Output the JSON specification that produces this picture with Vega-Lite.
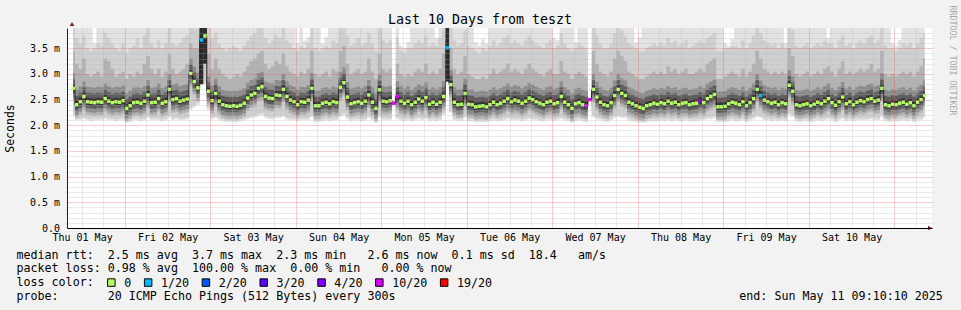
{
"$schema":"https://vega.github.io/schema/vega-lite/v6.json",
"width":865,"height":200,
"autosize":{"type":"none"},
"padding":{"left":67,"top":28,"right":29,"bottom":82},
"background":"#f2f2f2",
"title":{"text":"Last 10 Days from teszt","frame":"group","anchor":"middle","dx":-19.5,"dy":36,"offset":4,"baseline":"alphabetic","font":"DejaVu Sans Mono","fontSize":13.3,"fontWeight":"normal","color":"#000000"},
"datasets":{
"d":[
{"t":9.5,"m":2.72,"l":2.18,"u":3.45,"v":3.89},{"t":10.5,"m":2.40,"l":2.1,"u":3.2,"v":3.7},{"t":11.5,"m":2.46,"l":2.1,"u":3.1,"v":3.6},{"t":12.5,"m":2.56,"l":2.12,"u":3.3,"v":3.75},{"t":13.5,"m":2.46,"l":2.1,"u":3.0,"v":3.5},{"t":14.5,"m":2.45,"l":2.08,"u":2.95,"v":3.45},{"t":15.5,"m":2.44,"l":2.1,"u":3.0,"v":3.5},{"t":16.5,"m":2.46,"l":2.1,"u":3.05,"v":3.6},{"t":17.5,"m":2.45,"l":2.1,"u":2.95,"v":3.55},{"t":18.5,"m":2.52,"l":2.12,"u":3.3,"v":3.8},
{"t":19.5,"m":2.47,"l":2.1,"u":3.25,"v":3.7},{"t":20.5,"m":2.44,"l":2.1,"u":3.1,"v":3.6},{"t":21.5,"m":2.46,"l":2.08,"u":2.95,"v":3.5},{"t":22.5,"m":2.45,"l":2.1,"u":3.0,"v":3.45},{"t":23.5,"m":2.48,"l":2.1,"u":3.05,"v":3.6},{"t":24.5,"m":2.33,"l":2.05,"u":2.9,"v":3.4},{"t":25.5,"m":2.38,"l":2.06,"u":3.0,"v":3.5},{"t":26.5,"m":2.44,"l":2.1,"u":2.95,"v":3.55},{"t":27.5,"m":2.45,"l":2.1,"u":3.05,"v":3.7},{"t":28.5,"m":2.43,"l":2.08,"u":3.0,"v":3.5},
{"t":29.5,"m":2.47,"l":2.1,"u":3.2,"v":3.75},{"t":30.5,"m":2.59,"l":2.14,"u":3.35,"v":3.89},{"t":31.5,"m":2.44,"l":2.1,"u":3.1,"v":3.6},{"t":32.5,"m":2.45,"l":2.1,"u":3.0,"v":3.5},{"t":33.5,"m":2.52,"l":2.1,"u":3.1,"v":3.65},{"t":34.5,"m":2.43,"l":2.08,"u":2.95,"v":3.5},{"t":35.5,"m":2.46,"l":2.1,"u":3.05,"v":3.6},{"t":36.5,"m":2.70,"l":2.15,"u":3.4,"v":3.89},{"t":37.5,"m":2.50,"l":2.1,"u":3.1,"v":3.6},{"t":38.5,"m":2.52,"l":2.12,"u":3.0,"v":3.55},
{"t":39.5,"m":2.47,"l":2.1,"u":3.05,"v":3.6},{"t":40.5,"m":2.49,"l":2.1,"u":3.1,"v":3.7},{"t":41.5,"m":2.51,"l":2.12,"u":3.2,"v":3.75},{"t":42.5,"m":3.01,"l":2.3,"u":3.6,"v":3.89},{"t":43.5,"m":2.85,"l":2.35,"u":3.5,"v":3.89},{"t":44.5,"m":2.73,"l":2.4,"u":3.5,"v":3.89},{"t":45.5,"m":3.66,"l":2.8,"u":3.89,"v":3.89,"c":"1/20"},{"t":46.5,"m":3.74,"l":2.8,"u":3.89,"v":3.89},{"t":47.5,"m":2.66,"l":2.3,"u":3.4,"v":3.89},{"t":48.5,"m":2.48,"l":2.12,"u":3.1,"v":3.7},
{"t":49.5,"m":2.62,"l":2.14,"u":3.3,"v":3.8},{"t":50.5,"m":2.47,"l":2.1,"u":3.1,"v":3.6},{"t":51.5,"m":2.40,"l":2.08,"u":3.0,"v":3.5},{"t":52.5,"m":2.38,"l":2.06,"u":2.95,"v":3.45},{"t":53.5,"m":2.37,"l":2.06,"u":2.9,"v":3.5},{"t":54.5,"m":2.38,"l":2.06,"u":2.95,"v":3.55},{"t":55.5,"m":2.37,"l":2.06,"u":3.0,"v":3.5},{"t":56.5,"m":2.39,"l":2.08,"u":2.95,"v":3.45},{"t":57.5,"m":2.43,"l":2.1,"u":3.05,"v":3.55},{"t":58.5,"m":2.53,"l":2.12,"u":3.15,"v":3.65},
{"t":59.5,"m":2.59,"l":2.14,"u":3.25,"v":3.75},{"t":60.5,"m":2.62,"l":2.15,"u":3.3,"v":3.8},{"t":61.5,"m":2.72,"l":2.18,"u":3.4,"v":3.89},{"t":62.5,"m":2.75,"l":2.2,"u":3.45,"v":3.89},{"t":63.5,"m":2.56,"l":2.14,"u":3.2,"v":3.7},{"t":64.5,"m":2.53,"l":2.12,"u":3.1,"v":3.6},{"t":65.5,"m":2.52,"l":2.12,"u":3.15,"v":3.65},{"t":66.5,"m":2.59,"l":2.14,"u":3.25,"v":3.75},{"t":67.5,"m":2.58,"l":2.14,"u":3.2,"v":3.7},{"t":68.5,"m":2.70,"l":2.16,"u":3.4,"v":3.89},
{"t":69.5,"m":2.56,"l":2.12,"u":3.15,"v":3.65},{"t":70.5,"m":2.49,"l":2.1,"u":3.05,"v":3.6},{"t":71.5,"m":2.46,"l":2.1,"u":3.0,"v":3.5},{"t":72.5,"m":2.40,"l":2.08,"u":2.95,"v":3.45},{"t":73.5,"m":2.46,"l":2.1,"u":3.05,"v":3.55},{"t":74.5,"m":2.45,"l":2.1,"u":3.0,"v":3.5},{"t":75.5,"m":2.49,"l":2.1,"u":3.1,"v":3.6},{"t":76.5,"m":2.72,"l":2.16,"u":3.45,"v":3.89},{"t":77.5,"m":2.38,"l":2.06,"u":3.0,"v":3.5},{"t":78.5,"m":2.38,"l":2.06,"u":2.95,"v":3.45},
{"t":79.5,"m":2.43,"l":2.08,"u":3.0,"v":3.5},{"t":80.5,"m":2.45,"l":2.1,"u":3.05,"v":3.55},{"t":81.5,"m":2.42,"l":2.08,"u":2.95,"v":3.5},{"t":82.5,"m":2.46,"l":2.1,"u":3.1,"v":3.65},{"t":83.5,"m":2.44,"l":2.1,"u":3.05,"v":3.6},{"t":84.5,"m":2.74,"l":2.16,"u":3.45,"v":3.89},{"t":85.5,"m":2.83,"l":2.2,"u":3.55,"v":3.89},{"t":86.5,"m":2.55,"l":2.12,"u":3.2,"v":3.75},{"t":87.5,"m":2.42,"l":2.08,"u":3.0,"v":3.55},{"t":88.5,"m":2.44,"l":2.1,"u":3.05,"v":3.6},
{"t":89.5,"m":2.46,"l":2.1,"u":3.1,"v":3.7},{"t":90.5,"m":2.43,"l":2.08,"u":3.0,"v":3.55},{"t":91.5,"m":2.47,"l":2.1,"u":3.05,"v":3.6},{"t":92.5,"m":2.59,"l":2.14,"u":3.3,"v":3.8},{"t":93.5,"m":2.45,"l":2.1,"u":3.05,"v":3.6},{"t":94.5,"m":2.33,"l":2.05,"u":2.9,"v":3.45},{"t":95.5,"m":2.69,"l":2.15,"u":3.4,"v":3.89},{"t":96.5,"m":2.47,"l":2.1,"u":3.1,"v":3.65},{"t":97.5,"m":2.46,"l":2.1,"u":3.05,"v":3.6},{"t":98.5,"m":2.48,"l":2.1,"u":3.1,"v":3.65},
{"t":99.5,"m":2.43,"l":2.1,"u":3.0,"v":3.5,"c":"10/20"},{"t":100.5,"m":2.56,"l":2.12,"u":3.2,"v":3.7,"c":"10/20"},{"t":101.5,"m":2.47,"l":2.1,"u":3.0,"v":3.45},{"t":102.5,"m":2.43,"l":2.08,"u":2.95,"v":3.4},{"t":103.5,"m":2.47,"l":2.1,"u":3.0,"v":3.5},{"t":104.5,"m":2.40,"l":2.08,"u":2.95,"v":3.5},{"t":105.5,"m":2.45,"l":2.1,"u":3.05,"v":3.6},{"t":106.5,"m":2.51,"l":2.12,"u":3.1,"v":3.65},{"t":107.5,"m":2.47,"l":2.1,"u":3.05,"v":3.6},{"t":108.5,"m":2.54,"l":2.12,"u":3.2,"v":3.75},
{"t":109.5,"m":2.41,"l":2.08,"u":3.0,"v":3.55},{"t":110.5,"m":2.45,"l":2.1,"u":3.05,"v":3.6},{"t":111.5,"m":2.41,"l":2.08,"u":3.0,"v":3.55},{"t":112.5,"m":2.45,"l":2.1,"u":3.1,"v":3.7},{"t":113.5,"m":2.56,"l":2.2,"u":3.4,"v":3.89},{"t":114.5,"m":3.51,"l":2.85,"u":3.89,"v":3.89,"c":"1/20"},{"t":115.5,"m":2.79,"l":2.25,"u":3.5,"v":3.89},{"t":116.5,"m":2.45,"l":2.1,"u":3.1,"v":3.65},{"t":117.5,"m":2.40,"l":2.08,"u":3.0,"v":3.55},{"t":118.5,"m":2.41,"l":2.08,"u":3.05,"v":3.6},
{"t":119.5,"m":2.62,"l":2.14,"u":3.35,"v":3.85},{"t":120.5,"m":2.41,"l":2.08,"u":3.0,"v":3.55},{"t":121.5,"m":2.40,"l":2.08,"u":2.95,"v":3.5},{"t":122.5,"m":2.36,"l":2.06,"u":2.9,"v":3.45},{"t":123.5,"m":2.37,"l":2.06,"u":2.9,"v":3.4},{"t":124.5,"m":2.38,"l":2.06,"u":2.95,"v":3.5},{"t":125.5,"m":2.36,"l":2.06,"u":2.9,"v":3.45},{"t":126.5,"m":2.40,"l":2.08,"u":3.0,"v":3.55},{"t":127.5,"m":2.45,"l":2.1,"u":3.1,"v":3.65},{"t":128.5,"m":2.40,"l":2.08,"u":3.0,"v":3.55},
{"t":129.5,"m":2.43,"l":2.08,"u":3.05,"v":3.6},{"t":130.5,"m":2.47,"l":2.1,"u":3.1,"v":3.7},{"t":131.5,"m":2.52,"l":2.12,"u":3.2,"v":3.75},{"t":132.5,"m":2.46,"l":2.1,"u":3.05,"v":3.6},{"t":133.5,"m":2.49,"l":2.1,"u":3.1,"v":3.65},{"t":134.5,"m":2.47,"l":2.1,"u":3.05,"v":3.6},{"t":135.5,"m":2.43,"l":2.08,"u":3.0,"v":3.55},{"t":136.5,"m":2.47,"l":2.1,"u":3.1,"v":3.65},{"t":137.5,"m":2.53,"l":2.12,"u":3.2,"v":3.75},{"t":138.5,"m":2.50,"l":2.1,"u":3.1,"v":3.65},
{"t":139.5,"m":2.46,"l":2.1,"u":3.05,"v":3.6},{"t":140.5,"m":2.43,"l":2.08,"u":3.0,"v":3.55},{"t":141.5,"m":2.40,"l":2.08,"u":2.95,"v":3.5},{"t":142.5,"m":2.45,"l":2.1,"u":3.05,"v":3.6},{"t":143.5,"m":2.47,"l":2.1,"u":3.1,"v":3.65},{"t":144.5,"m":2.42,"l":2.08,"u":3.0,"v":3.5},{"t":145.5,"m":2.44,"l":2.1,"u":3.0,"v":3.55},{"t":146.5,"m":2.56,"l":2.12,"u":3.25,"v":3.8},{"t":147.5,"m":2.45,"l":2.1,"u":3.05,"v":3.6},{"t":148.5,"m":2.40,"l":2.08,"u":3.0,"v":3.5},
{"t":149.5,"m":2.33,"l":2.05,"u":2.9,"v":3.45},{"t":150.5,"m":2.42,"l":2.08,"u":3.0,"v":3.5},{"t":151.5,"m":2.44,"l":2.1,"u":3.05,"v":3.6},{"t":152.5,"m":2.40,"l":2.08,"u":3.0,"v":3.55},{"t":153.5,"m":2.38,"l":2.06,"u":2.95,"v":3.5,"c":"10/20"},{"t":154.5,"m":2.50,"l":2.1,"u":3.1,"v":3.6,"c":"10/20"},{"t":155.5,"m":2.70,"l":2.16,"u":3.45,"v":3.89},{"t":156.5,"m":2.55,"l":2.12,"u":3.2,"v":3.75},{"t":157.5,"m":2.45,"l":2.1,"u":3.05,"v":3.6},{"t":158.5,"m":2.40,"l":2.08,"u":3.0,"v":3.5},
{"t":159.5,"m":2.38,"l":2.06,"u":2.95,"v":3.5},{"t":160.5,"m":2.44,"l":2.1,"u":3.05,"v":3.6},{"t":161.5,"m":2.58,"l":2.14,"u":3.3,"v":3.8},{"t":162.5,"m":2.70,"l":2.16,"u":3.45,"v":3.89},{"t":163.5,"m":2.62,"l":2.14,"u":3.35,"v":3.85},{"t":164.5,"m":2.58,"l":2.14,"u":3.25,"v":3.75},{"t":165.5,"m":2.45,"l":2.1,"u":3.05,"v":3.6},{"t":166.5,"m":2.42,"l":2.08,"u":3.0,"v":3.55},{"t":167.5,"m":2.38,"l":2.06,"u":2.95,"v":3.5},{"t":168.5,"m":2.35,"l":2.05,"u":2.9,"v":3.45},
{"t":169.5,"m":2.33,"l":2.05,"u":2.9,"v":3.45},{"t":170.5,"m":2.38,"l":2.06,"u":2.95,"v":3.5},{"t":171.5,"m":2.40,"l":2.08,"u":3.0,"v":3.55},{"t":172.5,"m":2.43,"l":2.08,"u":3.05,"v":3.6},{"t":173.5,"m":2.41,"l":2.08,"u":3.0,"v":3.55},{"t":174.5,"m":2.44,"l":2.1,"u":3.05,"v":3.6},{"t":175.5,"m":2.42,"l":2.08,"u":3.0,"v":3.55},{"t":176.5,"m":2.47,"l":2.1,"u":3.15,"v":3.7},{"t":177.5,"m":2.43,"l":2.08,"u":3.05,"v":3.6},{"t":178.5,"m":2.45,"l":2.1,"u":3.1,"v":3.65},
{"t":179.5,"m":2.40,"l":2.08,"u":3.0,"v":3.55},{"t":180.5,"m":2.43,"l":2.08,"u":3.05,"v":3.6},{"t":181.5,"m":2.44,"l":2.1,"u":3.1,"v":3.65},{"t":182.5,"m":2.40,"l":2.08,"u":3.0,"v":3.5},{"t":183.5,"m":2.42,"l":2.08,"u":3.0,"v":3.55},{"t":184.5,"m":2.43,"l":2.08,"u":3.05,"v":3.6},{"t":185.5,"m":2.47,"l":2.1,"u":3.1,"v":3.65,"c":"4/20"},{"t":186.5,"m":2.44,"l":2.1,"u":3.05,"v":3.6},{"t":187.5,"m":2.52,"l":2.12,"u":3.2,"v":3.7},{"t":188.5,"m":2.56,"l":2.12,"u":3.25,"v":3.75},
{"t":189.5,"m":2.60,"l":2.14,"u":3.3,"v":3.8},{"t":190.5,"m":2.36,"l":2.06,"u":2.9,"v":3.45},{"t":191.5,"m":2.36,"l":2.06,"u":2.9,"v":3.45},{"t":192.5,"m":2.37,"l":2.06,"u":2.95,"v":3.5},{"t":193.5,"m":2.42,"l":2.08,"u":3.0,"v":3.5},{"t":194.5,"m":2.45,"l":2.1,"u":3.05,"v":3.55},{"t":195.5,"m":2.43,"l":2.08,"u":3.0,"v":3.55},{"t":196.5,"m":2.40,"l":2.08,"u":2.95,"v":3.5},{"t":197.5,"m":2.46,"l":2.1,"u":3.1,"v":3.65},{"t":198.5,"m":2.38,"l":2.06,"u":2.95,"v":3.5},
{"t":199.5,"m":2.44,"l":2.1,"u":3.05,"v":3.6},{"t":200.5,"m":2.52,"l":2.12,"u":3.2,"v":3.75},{"t":201.5,"m":2.70,"l":2.16,"u":3.45,"v":3.89},{"t":202.5,"m":2.58,"l":2.14,"u":3.3,"v":3.8,"c":"1/20"},{"t":203.5,"m":2.49,"l":2.1,"u":3.1,"v":3.65},{"t":204.5,"m":2.46,"l":2.1,"u":3.05,"v":3.6},{"t":205.5,"m":2.43,"l":2.08,"u":3.0,"v":3.55},{"t":206.5,"m":2.45,"l":2.1,"u":3.05,"v":3.6},{"t":207.5,"m":2.40,"l":2.08,"u":3.0,"v":3.5},{"t":208.5,"m":2.44,"l":2.1,"u":3.05,"v":3.6},
{"t":209.5,"m":2.42,"l":2.08,"u":3.0,"v":3.5},{"t":210.5,"m":2.78,"l":2.2,"u":3.5,"v":3.89},{"t":211.5,"m":2.66,"l":2.16,"u":3.35,"v":3.85},{"t":212.5,"m":2.40,"l":2.08,"u":3.0,"v":3.55},{"t":213.5,"m":2.38,"l":2.06,"u":2.95,"v":3.5},{"t":214.5,"m":2.40,"l":2.08,"u":3.0,"v":3.55},{"t":215.5,"m":2.42,"l":2.08,"u":3.05,"v":3.6},{"t":216.5,"m":2.38,"l":2.06,"u":2.95,"v":3.5},{"t":217.5,"m":2.41,"l":2.08,"u":3.0,"v":3.55},{"t":218.5,"m":2.45,"l":2.1,"u":3.05,"v":3.6},
{"t":219.5,"m":2.42,"l":2.08,"u":3.0,"v":3.55},{"t":220.5,"m":2.47,"l":2.1,"u":3.1,"v":3.65},{"t":221.5,"m":2.52,"l":2.12,"u":3.15,"v":3.6},{"t":222.5,"m":2.44,"l":2.1,"u":3.05,"v":3.6},{"t":223.5,"m":2.39,"l":2.06,"u":2.95,"v":3.5},{"t":224.5,"m":2.46,"l":2.1,"u":3.1,"v":3.65},{"t":225.5,"m":2.55,"l":2.12,"u":3.25,"v":3.75},{"t":226.5,"m":2.42,"l":2.08,"u":3.0,"v":3.55},{"t":227.5,"m":2.46,"l":2.1,"u":3.05,"v":3.6},{"t":228.5,"m":2.40,"l":2.08,"u":3.0,"v":3.5},
{"t":229.5,"m":2.45,"l":2.1,"u":3.05,"v":3.6},{"t":230.5,"m":2.48,"l":2.1,"u":3.1,"v":3.65},{"t":231.5,"m":2.46,"l":2.1,"u":3.05,"v":3.6},{"t":232.5,"m":2.50,"l":2.1,"u":3.1,"v":3.7},{"t":233.5,"m":2.52,"l":2.12,"u":3.2,"v":3.75},{"t":234.5,"m":2.47,"l":2.1,"u":3.05,"v":3.6},{"t":235.5,"m":2.49,"l":2.1,"u":3.1,"v":3.65},{"t":236.5,"m":2.72,"l":2.16,"u":3.45,"v":3.89},{"t":237.5,"m":2.40,"l":2.08,"u":3.0,"v":3.55},{"t":238.5,"m":2.38,"l":2.06,"u":2.95,"v":3.5},
{"t":239.5,"m":2.41,"l":2.08,"u":3.0,"v":3.5},{"t":240.5,"m":2.40,"l":2.08,"u":2.95,"v":3.45},{"t":241.5,"m":2.43,"l":2.08,"u":3.0,"v":3.5},{"t":242.5,"m":2.45,"l":2.1,"u":3.05,"v":3.6},{"t":243.5,"m":2.41,"l":2.08,"u":3.0,"v":3.55},{"t":244.5,"m":2.44,"l":2.1,"u":3.05,"v":3.6},{"t":245.5,"m":2.38,"l":2.06,"u":2.95,"v":3.5},{"t":246.5,"m":2.45,"l":2.1,"u":3.05,"v":3.6},{"t":247.5,"m":2.50,"l":2.1,"u":3.15,"v":3.7},{"t":248.5,"m":2.58,"l":2.14,"u":3.3,"v":3.8}
],
"ov":[
{"t":15.5,"a":3.6,"b":3.895,"k":"gap"},{"t":72.5,"a":3.6,"b":3.895,"k":"gap"},{"t":74.5,"a":3.65,"b":3.895,"k":"gap"},{"t":75.5,"a":3.72,"b":3.895,"k":"gap"},{"t":79.5,"a":3.6,"b":3.895,"k":"gap"},{"t":80.5,"a":3.72,"b":3.895,"k":"gap"},{"t":99.5,"a":2.0,"b":3.895,"k":"gap"},{"t":101.5,"a":3.55,"b":3.895,"k":"gap"},{"t":102.5,"a":3.5,"b":3.895,"k":"gap"},{"t":103.5,"a":3.62,"b":3.895,"k":"gap"},{"t":111.5,"a":3.7,"b":3.895,"k":"gap"},{"t":122.5,"a":3.62,"b":3.895,"k":"gap"},{"t":123.5,"a":3.55,"b":3.895,"k":"gap"},{"t":124.5,"a":3.68,"b":3.895,"k":"gap"},{"t":125.5,"a":3.6,"b":3.895,"k":"gap"},{"t":144.5,"a":3.7,"b":3.895,"k":"gap"},{"t":145.5,"a":3.66,"b":3.895,"k":"gap"},{"t":150.5,"a":3.62,"b":3.895,"k":"gap"},{"t":154.5,"a":2.0,"b":3.895,"k":"gap"},{"t":167.5,"a":3.62,"b":3.895,"k":"gap"},{"t":168.5,"a":3.7,"b":3.895,"k":"gap"},{"t":192.5,"a":3.6,"b":3.895,"k":"gap"},{"t":193.5,"a":3.55,"b":3.895,"k":"gap"},{"t":194.5,"a":3.68,"b":3.895,"k":"gap"},{"t":209.5,"a":3.6,"b":3.895,"k":"gap"},{"t":221.5,"a":3.7,"b":3.895,"k":"gap"},{"t":239.5,"a":3.6,"b":3.895,"k":"gap"},{"t":240.5,"a":3.55,"b":3.895,"k":"gap"},{"t":241.5,"a":3.66,"b":3.895,"k":"gap"},
{"t":45.5,"a":2.8,"b":3.895,"k":"dark"},{"t":46.5,"a":3.2,"b":3.895,"k":"dark"},{"t":114.5,"a":2.85,"b":3.895,"k":"dark"}
]
},
"data":{"name":"d"},
"encoding":{"x":{"field":"t","type":"quantitative","scale":{"domain":[9.1694,249.1694],"nice":false,"zero":false},
 "axis":{"values":[12,18,24,30,36,42,48,54,60,66,72,78,84,90,96,102,108,114,120,126,132,138,144,150,156,162,168,174,180,186,192,198,204,210,216,222,228,234,240,246],
  "grid":true,"gridColor":{"condition":{"test":"datum.value % 24 == 0","value":"#de4f4f"},"value":"#b4b4b4"},"gridOpacity":0.55,"gridDash":[1,1],"gridWidth":1,
  "ticks":false,"domain":true,"domainColor":"#000000","domainWidth":1,
  "labelExpr":"datum.value % 24 == 12 ? timeFormat(datetime(2025, 4, 1 + floor(datum.value / 24)), '%a %d %b') : ''",
  "labelFont":"DejaVu Sans Mono","labelFontSize":10,"labelColor":"#000000","labelPadding":12.5,"labelBaseline":"alphabetic","labelAlign":"center","labelFlush":false,"labelOverlap":false,"labelBound":false,
  "title":["median rtt:\u00a0\u00a02.5 ms avg\u00a0\u00a03.7 ms max\u00a0\u00a02.3 ms min\u00a0\u00a0\u00a02.6 ms now\u00a0\u00a00.1 ms sd\u00a0\u00a018.4\u00a0\u00a0\u00a0am/s","packet loss: 0.98 % avg\u00a0\u00a0100.00 % max\u00a0\u00a00.00 % min\u00a0\u00a0\u00a00.00 % now","loss color:","probe:\u00a0\u00a0\u00a0\u00a0\u00a0\u00a0\u00a020 ICMP Echo Pings (512 Bytes) every 300s\u00a0\u00a0\u00a0\u00a0\u00a0\u00a0\u00a0\u00a0\u00a0\u00a0\u00a0\u00a0\u00a0\u00a0\u00a0\u00a0\u00a0\u00a0\u00a0\u00a0\u00a0\u00a0\u00a0\u00a0\u00a0\u00a0\u00a0\u00a0\u00a0\u00a0\u00a0\u00a0\u00a0\u00a0\u00a0\u00a0\u00a0\u00a0\u00a0\u00a0\u00a0\u00a0\u00a0\u00a0\u00a0\u00a0\u00a0\u00a0\u00a0end: Sun May 11 09:10:10 2025"],
  "titleFont":"DejaVu Sans Mono","titleFontSize":11.67,"titleFontWeight":"normal","titleColor":"#000000","titleAlign":"left","titleAnchor":"start","titleX":-51,"titleY":30,"titleBaseline":"alphabetic","titleLineHeight":13.9,
  "zindex":1}}},
"layer":[
{"mark":{"type":"area","interpolate":"step","color":"#e2e2e2","clip":true},
 "encoding":{"y":{"field":"l","type":"quantitative","scale":{"domain":[0,3.895],"nice":false,"zero":false},
   "axis":{"values":[0,0.1,0.2,0.3,0.4,0.5,0.6,0.7,0.8,0.9,1,1.1,1.2,1.3,1.4,1.5,1.6,1.7,1.8,1.9,2,2.1,2.2,2.3,2.4,2.5,2.6,2.7,2.8,2.9,3,3.1,3.2,3.3,3.4,3.5,3.6,3.7,3.8],
    "grid":true,"gridColor":{"condition":{"test":"abs(datum.value * 2 - round(datum.value * 2)) < 0.01","value":"#de4f4f"},"value":"#b4b4b4"},"gridOpacity":0.55,"gridDash":[1,1],"gridWidth":1,
    "ticks":false,"domain":true,"domainColor":"#1f1f1f","domainWidth":1,
    "labelExpr":"abs(datum.value * 2 - round(datum.value * 2)) < 0.01 ? (datum.value < 0.01 ? '0.0' : format(datum.value, '.1f') + ' m') : ''",
    "labelFont":"DejaVu Sans Mono","labelFontSize":10,"labelColor":"#000000","labelPadding":7.5,"labelBaseline":"middle","labelAlign":"right","labelOverlap":false,"labelFlush":false,"labelBound":false,
    "title":"Seconds","titleFont":"DejaVu Sans Mono","titleFontSize":11.5,"titleFontWeight":"normal","titleColor":"#000000","titleAngle":270,"titleX":-56.5,"titleY":100,"titleBaseline":"middle","titleAlign":"center",
    "zindex":1}},
  "y2":{"datum":3.895}}},
{"mark":{"type":"area","interpolate":"step","color":"#cfcfcf","clip":true,"yOffset":-2},
 "encoding":{"y":{"field":"l","type":"quantitative","scale":{"domain":[0,3.895],"nice":false,"zero":false},"axis":null},"y2":{"field":"v"}}},
{"mark":{"type":"area","interpolate":"step","color":"#b2b2b2","clip":true,"yOffset":13},
 "encoding":{"y":{"field":"m","type":"quantitative","scale":{"domain":[0,3.895],"nice":false,"zero":false},"axis":null},"y2":{"field":"u"}}},
{"mark":{"type":"area","interpolate":"step","color":"#8c8c8c","clip":true,"yOffset":10,"y2Offset":-15},
 "encoding":{"y":{"field":"m","type":"quantitative","scale":{"domain":[0,3.895],"nice":false,"zero":false},"axis":null},"y2":{"field":"m"}}},
{"mark":{"type":"area","interpolate":"step","color":"#5e5e5e","clip":true,"yOffset":6,"y2Offset":-9},
 "encoding":{"y":{"field":"m","type":"quantitative","scale":{"domain":[0,3.895],"nice":false,"zero":false},"axis":null},"y2":{"field":"m"}}},
{"mark":{"type":"area","interpolate":"step","color":"#363636","clip":true,"yOffset":3,"y2Offset":-4},
 "encoding":{"y":{"field":"m","type":"quantitative","scale":{"domain":[0,3.895],"nice":false,"zero":false},"axis":null},"y2":{"field":"m"}}},
{"data":{"name":"ov"},"mark":{"type":"bar","width":3.7,"clip":true},
 "encoding":{"y":{"field":"a","type":"quantitative","scale":{"domain":[0,3.895],"nice":false,"zero":false},"axis":null},"y2":{"field":"b"},
  "fill":{"field":"k","type":"nominal","scale":{"domain":["gap","dark"],"range":["#ffffff","#2b2b2b"]},"legend":null}}},
{"mark":{"type":"line","interpolate":"step","color":"#1f1f1f","strokeWidth":1,"clip":true},
 "encoding":{"y":{"field":"m","type":"quantitative","scale":{"domain":[0,3.895],"nice":false,"zero":false},"axis":null}}},
{"transform":[{"filter":"!isValid(datum.c)"}],
 "mark":{"type":"point","shape":"square","filled":true,"size":12,"color":"#b5ff66","opacity":1,"clip":true},
 "encoding":{"y":{"field":"m","type":"quantitative","scale":{"domain":[0,3.895],"nice":false,"zero":false},"axis":null}}},
{"transform":[{"filter":"isValid(datum.c)"}],
 "mark":{"type":"point","shape":"square","filled":true,"size":12,"opacity":1,"clip":true},
 "encoding":{"y":{"field":"m","type":"quantitative","scale":{"domain":[0,3.895],"nice":false,"zero":false},"axis":null},
  "color":{"field":"c","type":"nominal","scale":{"domain":["0","1/20","2/20","3/20","4/20","10/20","19/20"],"range":["#b5ff66","#00b8ff","#0059ff","#5e00ff","#7e00ff","#dd00ff","#ff0000"]},
   "legend":{"orient":"none","legendX":38.5,"legendY":248.5,"direction":"horizontal","title":null,
    "labelFont":"DejaVu Sans Mono","labelFontSize":11.67,"labelColor":"#000000","labelOffset":7,"labelLimit":300,"columnPadding":10.8,"padding":0,
    "symbolType":"square","symbolSize":56,"symbolStrokeColor":"#000000","symbolStrokeWidth":1,"symbolOpacity":1,
    "encode":{"symbols":{"update":{"stroke":{"value":"#000000"},"strokeWidth":{"value":1},"opacity":{"value":1}}}}}}}},
{"data":{"values":[{"t":9.1694,"v":3.895}]},
 "mark":{"type":"point","shape":"triangle-up","filled":true,"size":22,"color":"#801f1f","opacity":1,"yOffset":-4},
 "encoding":{"y":{"field":"v","type":"quantitative","scale":{"domain":[0,3.895],"nice":false,"zero":false},"axis":null}}},
{"data":{"values":[{"t":249.1694,"v":0}]},
 "mark":{"type":"point","shape":"triangle-right","filled":true,"size":22,"color":"#801f1f","opacity":1,"xOffset":3},
 "encoding":{"y":{"field":"v","type":"quantitative","scale":{"domain":[0,3.895],"nice":false,"zero":false},
   "axis":{"orient":"right","labels":false,"ticks":false,"domain":false,"grid":false,"title":"RRDTOOL / TOBI OETIKER","titleFont":"DejaVu Sans Mono","titleFontSize":8.3,"titleFontWeight":"normal","titleColor":"#a8a8a8","titleAngle":90,"titleAlign":"left","titleBaseline":"middle","titleX":19.5,"titleY":-23}}}}
],
"resolve":{"axis":{"y":"independent"}},
"config":{"view":{"fill":"#ffffff","stroke":null},"font":"DejaVu Sans Mono"}
}
